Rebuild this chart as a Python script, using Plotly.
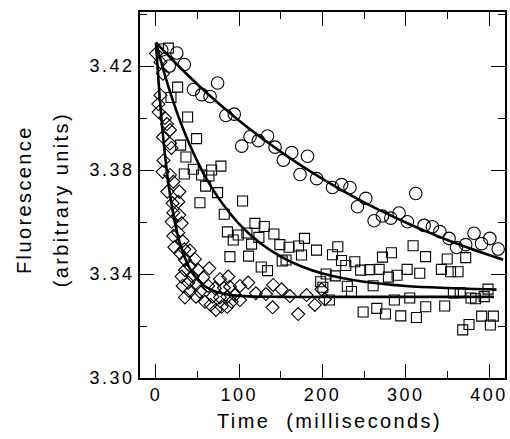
import plotly.graph_objects as go

# ---------------- data ----------------
circle_t = [7, 16, 25, 34, 45, 55, 65, 74, 84, 94, 103, 113, 123, 134, 143, 153, 163, 173, 182, 193,
            212, 223, 233, 242, 252, 262, 272, 282, 292, 302, 312, 322, 332, 341, 352, 361, 372, 382,
            391, 401, 411]
circle_v = [3.4262, 3.4200, 3.4250, 3.4206, 3.4110, 3.4090, 3.4083, 3.4135, 3.4010, 3.4015, 3.3892,
            3.3928, 3.3913, 3.3931, 3.3888, 3.3838, 3.3867, 3.3783, 3.3853, 3.3767, 3.3733, 3.3744,
            3.3733, 3.3659, 3.3691, 3.3605, 3.3623, 3.3615, 3.3635, 3.3601, 3.3710, 3.3587, 3.3582,
            3.3563, 3.3537, 3.3502, 3.3513, 3.3557, 3.3517, 3.3537, 3.3496]

square_t = [14.8, 18, 26, 29.6, 36, 38, 48.8, 34, 44.8, 54.8, 63.6, 66.8, 78, 59.6, 74, 52.8, 104, 82,
            85.8, 92.8, 98.8, 109.2, 118.8, 130, 123.6, 141.6, 114.8, 88.8, 111.2, 126.4, 134, 148.8,
            159.8, 171.2, 178.4, 174.8, 192.8, 151.6, 156.2, 212, 218.4, 222.8, 228, 204.4, 215.4,
            197.8, 200.4, 208.3, 229.8, 234.8, 238.8, 245.8, 256.8, 268, 272, 282.8, 279.2, 289.6,
            301.6, 308.8, 323.8, 316.8, 342.8, 349.8, 353.8, 362.8, 372, 260.8, 286.3, 304.8, 324,
            346.8, 357.2, 365.4, 248.8, 265.2, 275.6, 294, 312.8, 378.4, 383.8, 398.8, 394.2, 391.2,
            405.2, 401.6, 376, 368.4]
square_v = [3.4269, 3.4079, 3.4119, 3.3896, 3.3850, 3.4004, 3.3921, 3.3785, 3.3803, 3.3781, 3.3777,
            3.3800, 3.3815, 3.3738, 3.3713, 3.3674, 3.3681, 3.3630, 3.3562, 3.3531, 3.3550, 3.3558,
            3.3595, 3.3583, 3.3541, 3.3554, 3.3515, 3.3467, 3.3469, 3.3427, 3.3413, 3.3513, 3.3503,
            3.3508, 3.3537, 3.3473, 3.3492, 3.3450, 3.3454, 3.3474, 3.3505, 3.3452, 3.3433, 3.3400,
            3.3393, 3.3370, 3.3349, 3.3300, 3.3353, 3.3333, 3.3447, 3.3415, 3.3417, 3.3418, 3.3465,
            3.3482, 3.3388, 3.3395, 3.3418, 3.3509, 3.3467, 3.3403, 3.3418, 3.3458, 3.3409, 3.3409,
            3.3463, 3.3355, 3.3300, 3.3308, 3.3274, 3.3277, 3.3327, 3.3328, 3.3254, 3.3268, 3.3246,
            3.3239, 3.3233, 3.3308, 3.3305, 3.3342, 3.3313, 3.3238, 3.3238, 3.3204, 3.3206, 3.3185]

diamond_t = [0, 5.4, 8.4, 5.4, 2.8, 3.2, 10.8, 13.2, 16.8, 8.4, 16.8, 18.6, 9, 8, 16.8, 20.8, 13.6, 28,
             26.8, 20, 20.8, 28, 18.8, 30.8, 26.8, 20.8, 32, 22, 34, 28.8, 40.8, 34.8, 46.8, 40.8,
             34.8, 50.8, 64, 30.8, 44, 56.8, 38.8, 32, 48.8, 62.8, 76.8, 86.8, 40.8, 52.8, 70.8, 81.6,
             88.8, 34.8, 48, 58.8, 68, 76.8, 85.6, 94.8, 65.6, 72, 78.8, 85.6, 100.8, 110.8, 120, 132,
             140.8, 150.8, 160.8, 140, 170.8, 180.8, 190.8, 198.8, 202.8, 100.8, 90.8]
diamond_v = [3.4248, 3.4215, 3.4171, 3.4088, 3.4054, 3.4023, 3.4000, 3.3977, 3.3954, 3.3927, 3.3902,
             3.3885, 3.3837, 3.3793, 3.3781, 3.3755, 3.3717, 3.3717, 3.3678, 3.3672, 3.3636, 3.3627,
             3.3601, 3.3595, 3.3559, 3.3546, 3.3527, 3.3503, 3.3495, 3.3480, 3.3490, 3.3454, 3.3457,
             3.3431, 3.3415, 3.3415, 3.3422, 3.3390, 3.3390, 3.3387, 3.3367, 3.3354, 3.3362, 3.3354,
             3.3380, 3.3390, 3.3332, 3.3332, 3.3345, 3.3347, 3.3351, 3.3310, 3.3313, 3.3293, 3.3313,
             3.3310, 3.3313, 3.3319, 3.3281, 3.3262, 3.3274, 3.3274, 3.3354, 3.3367, 3.3326, 3.3323,
             3.3358, 3.3341, 3.3315, 3.3272, 3.3246, 3.3319, 3.3281, 3.3341, 3.3303, 3.3300, 3.3293]

# fitted curves
circle_fit_t = [0, 25, 50, 75, 100, 125, 150, 175, 200, 225, 250, 275, 300, 325, 350, 375, 400, 417]
circle_fit_v = [3.4290, 3.4207, 3.4129, 3.4057, 3.3990, 3.3928, 3.3870, 3.3816, 3.3766, 3.3719,
                3.3676, 3.3636, 3.3598, 3.3563, 3.3531, 3.3501, 3.3473, 3.3455]
square_fit_t = [0, 10, 20, 30, 40, 50, 60, 80, 100, 125, 150, 175, 200, 250, 300, 350, 409]
square_fit_v = [3.4290, 3.4173, 3.4070, 3.3980, 3.3901, 3.3832, 3.3770, 3.3670, 3.3592, 3.3519,
                3.3467, 3.3429, 3.3402, 3.3370, 3.3354, 3.3346, 3.3340]
diamond_fit_t = [0, 5, 10, 15, 20, 25, 30, 40, 50, 60, 75, 100, 150, 200, 300, 406]
diamond_fit_v = [3.4290, 3.4058, 3.3882, 3.3747, 3.3644, 3.3565, 3.3505, 3.3425, 3.3378, 3.3350,
                 3.3329, 3.3316, 3.3312, 3.3312, 3.3312, 3.3312]

x_ticks = [0, 100, 200, 300, 400]
y_ticks = [3.30, 3.34, 3.38, 3.42]
y_tick_text = ["3.30", "3.34", "3.38", "3.42"]

FONT = "Liberation Sans, Arial, Helvetica, sans-serif"

fig = go.Figure()
fig.add_trace(go.Scatter(x=circle_t, y=circle_v, mode="markers",
                         marker=dict(symbol="circle-open", size=12.5, color="black",
                                     line=dict(width=1.1, color="black"))))
fig.add_trace(go.Scatter(x=square_t, y=square_v, mode="markers",
                         marker=dict(symbol="square-open", size=10, color="black",
                                     line=dict(width=1.1, color="black"))))
fig.add_trace(go.Scatter(x=diamond_t, y=diamond_v, mode="markers",
                         marker=dict(symbol="diamond-open", size=10, color="black",
                                     line=dict(width=1.1, color="black"))))
for ft, fv in [(circle_fit_t, circle_fit_v), (square_fit_t, square_fit_v),
               (diamond_fit_t, diamond_fit_v)]:
    fig.add_trace(go.Scatter(x=ft, y=fv, mode="lines",
                             line=dict(color="black", width=2.6, shape="spline")))

axis_common = dict(showline=True, linecolor="black", linewidth=1.6, mirror="ticks",
                   ticks="inside", ticklen=14, tickwidth=1.2, tickcolor="black",
                   showgrid=False, zeroline=False, automargin=False,
                   tickfont=dict(family=FONT, size=18, color="black"))
fig.update_xaxes(range=[-19.2, 419.2], tickvals=x_ticks,
                 minor=dict(dtick=50, tick0=0, ticklen=7, tickwidth=1.2, tickcolor="black",
                            ticks="inside", showgrid=False),
                 **axis_common)
fig.update_yaxes(range=[3.30, 3.4408], tickvals=y_ticks, ticktext=y_tick_text,
                 minor=dict(dtick=0.02, tick0=3.30, ticklen=7, tickwidth=1.2, tickcolor="black",
                            ticks="inside", showgrid=False),
                 **axis_common)

fig.add_annotation(text="Fluorescence", xref="paper", yref="paper", x=-0.318, y=0.487,
                   textangle=-90, showarrow=False, xanchor="center", yanchor="middle",
                   font=dict(family=FONT, size=20, color="black"))
fig.add_annotation(text="(arbitrary units)", xref="paper", yref="paper", x=-0.216, y=0.487,
                   textangle=-90, showarrow=False, xanchor="center", yanchor="middle",
                   font=dict(family=FONT, size=20, color="black"))
fig.add_annotation(text="Time  (milliseconds)", xref="paper", yref="paper", x=0.52, y=-0.118,
                   showarrow=False, xanchor="center", yanchor="middle",
                   font=dict(family=FONT, size=20, color="black"))

fig.update_layout(width=510, height=439, showlegend=False,
                  margin=dict(l=140, r=5, t=12, b=61),
                  plot_bgcolor="white", paper_bgcolor="white")

post = """
document.body.style.margin = '0';
document.body.style.padding = '0';
var gd = document.getElementById('{plot_id}');
gd.querySelectorAll('.xtick text, .ytick text').forEach(function(e){ e.style.letterSpacing = '2.5px'; });
gd.querySelectorAll('.annotation-text').forEach(function(e){ e.style.letterSpacing = '2.4px'; });
"""
fig.write_html("out.html", post_script=post, config={"displayModeBar": False})
